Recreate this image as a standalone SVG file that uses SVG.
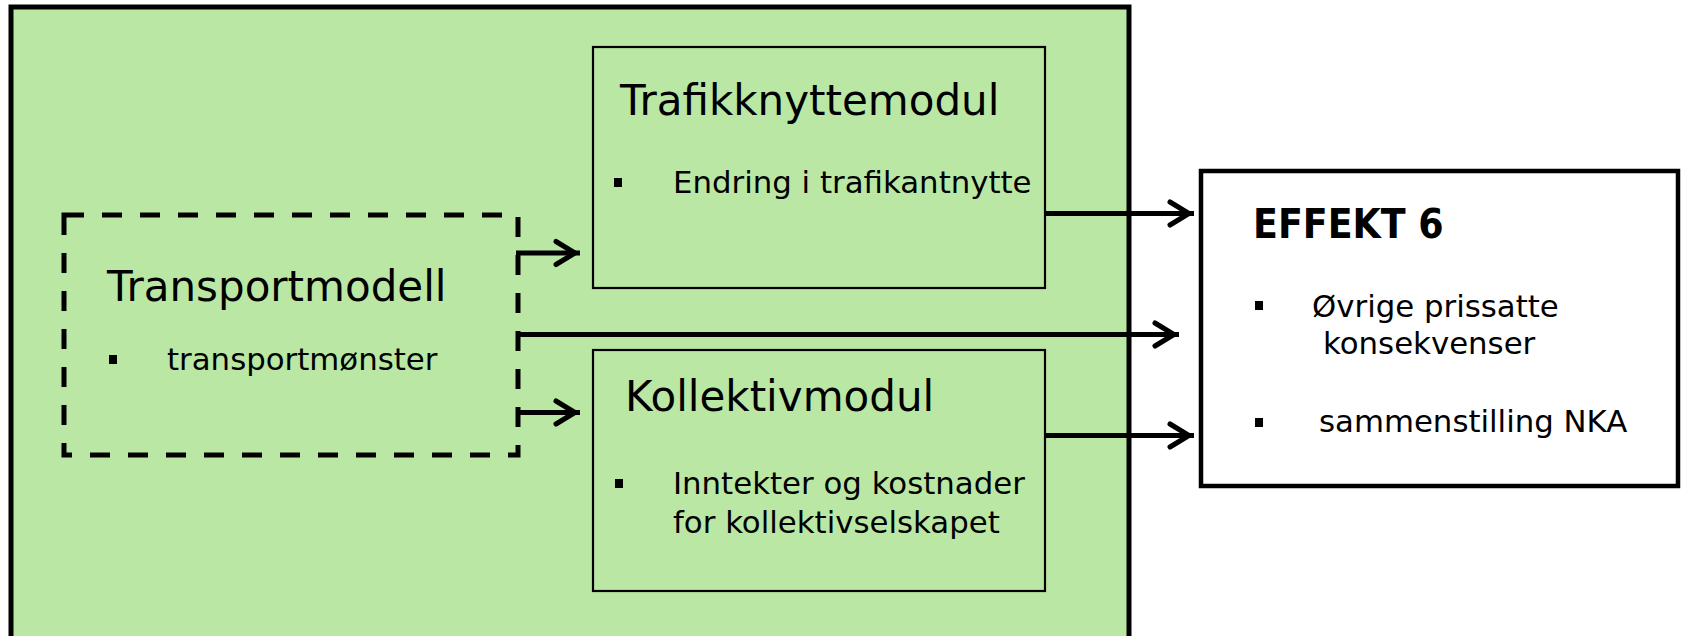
<svg xmlns="http://www.w3.org/2000/svg" width="1683" height="636" viewBox="0 0 1683 636">
<style>
  text { font-family: "DejaVu Sans", "Noto Sans", sans-serif; fill: #000; }
  .title { font-size: 42px; }
  .item { font-size: 30.8px; }
  .bold { font-family: "DejaVu Sans Condensed", "DejaVu Sans", sans-serif; font-weight: bold; font-size: 40.5px; }
  .module { fill: #BAE8A4; stroke: #000; stroke-width: 2.2; }
  .bullet { fill: #000; }
  .conn { stroke: #000; stroke-width: 5; fill: none; }
</style>
<defs>
  <marker id="ah" markerUnits="userSpaceOnUse" viewBox="-32 -18 36 36" markerWidth="36" markerHeight="36" refX="0" refY="0" orient="auto" overflow="visible">
    <path d="M-24,-11.5 L-5,0 L-24,11.5" fill="none" stroke="#000" stroke-width="5" stroke-linecap="round" stroke-linejoin="miter"/>
  </marker>
</defs>
<rect width="1683" height="636" fill="#fff"/>

<g id="container">
  <rect x="11" y="7" width="1118" height="700" fill="#BAE8A4" stroke="#000" stroke-width="5"/>
</g>

<g id="transportmodell">
  <rect x="64" y="215" width="454" height="240" fill="none" stroke="#000" stroke-width="5" stroke-dasharray="20 18"/>
  <text class="title" x="107" y="301">Transportmodell</text>
  <rect class="bullet" x="109" y="355" width="8" height="9"/>
  <text class="item" x="167" y="370">transportmønster</text>
</g>

<g id="trafikknyttemodul">
  <rect class="module" x="593" y="47" width="452" height="241"/>
  <text class="title" x="620" y="115">Trafikknyttemodul</text>
  <rect class="bullet" x="614" y="178" width="8" height="9"/>
  <text class="item" x="673" y="193">Endring i trafikantnytte</text>
</g>

<g id="kollektivmodul">
  <rect class="module" x="593" y="350" width="452" height="241"/>
  <text class="title" x="625" y="411">Kollektivmodul</text>
  <rect class="bullet" x="615" y="479" width="8" height="9"/>
  <text class="item" x="673" y="494">Inntekter og kostnader</text>
  <text class="item" x="673" y="533">for kollektivselskapet</text>
</g>

<g id="effekt6">
  <rect x="1201" y="171" width="477" height="315" fill="#fff" stroke="#000" stroke-width="4.5"/>
  <text class="bold" x="1253" y="238">EFFEKT 6</text>
  <rect class="bullet" x="1255" y="301" width="8" height="9"/>
  <text class="item" x="1312" y="316.5">Øvrige prissatte</text>
  <text class="item" x="1323" y="354">konsekvenser</text>
  <rect class="bullet" x="1255" y="418" width="8" height="9"/>
  <text class="item" x="1319" y="432">sammenstilling NKA</text>
</g>

<g id="connectors">
  <line class="conn" x1="516" y1="253" x2="580" y2="253" marker-end="url(#ah)"/>
  <line class="conn" x1="516" y1="412.5" x2="580" y2="412.5" marker-end="url(#ah)"/>
  <line class="conn" x1="516" y1="334.5" x2="1179" y2="334.5" marker-end="url(#ah)"/>
  <line class="conn" x1="1046" y1="213.5" x2="1194" y2="213.5" marker-end="url(#ah)"/>
  <line class="conn" x1="1046" y1="435.5" x2="1194" y2="435.5" marker-end="url(#ah)"/>
</g>
</svg>
